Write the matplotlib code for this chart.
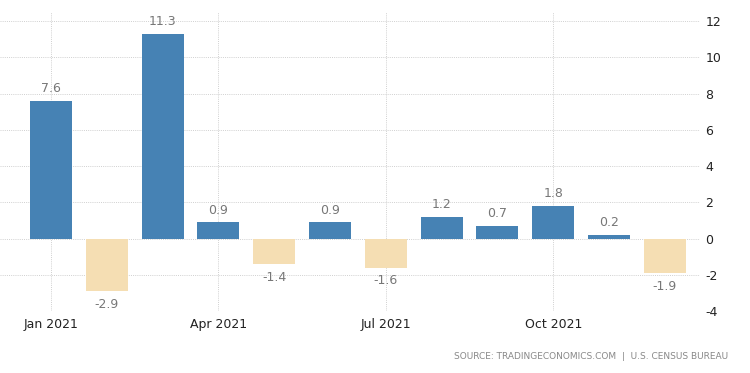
import matplotlib
matplotlib.use("Agg")
import matplotlib.pyplot as plt
import numpy as np

months = ["Jan", "Feb", "Mar", "Apr", "May", "Jun", "Jul", "Aug", "Sep", "Oct", "Nov", "Dec"]
values = [7.6, -2.9, 11.3, 0.9, -1.4, 0.9, -1.6, 1.2, 0.7, 1.8, 0.2, -1.9]
xtick_labels = ["Jan 2021", "Apr 2021", "Jul 2021", "Oct 2021"]
xtick_idx = [0, 3, 6, 9]
yticks = [-4, -2, 0, 2, 4, 6, 8, 10, 12]

blue = "#4682B4"
tan = "#F5DEB3"

fig = plt.figure(figsize=(7.5, 3.73), dpi=100)
ax = fig.add_axes([0.0, 0.1662, 0.9333, 0.8016])

x = np.arange(len(months))
colors = [blue if v >= 0 else tan for v in values]
ax.bar(x, values, width=0.75, color=colors, zorder=3)

for xi, v in zip(x, values):
    if v >= 0:
        ax.annotate(f"{v:.1f}", (xi, v), xytext=(0, 4), textcoords="offset points",
                    ha="center", va="bottom", fontsize=9, color="#777777")
    else:
        ax.annotate(f"{v:.1f}", (xi, v), xytext=(0, -5), textcoords="offset points",
                    ha="center", va="top", fontsize=9, color="#777777")

ax.set_xlim(-0.914, 11.63)
ax.set_ylim(-4, 12.5)
ax.set_yticks(yticks)
ax.set_yticklabels([str(t) for t in yticks])
ax.yaxis.tick_right()
ax.set_xticks(xtick_idx)
ax.set_xticklabels(xtick_labels)

ax.grid(True, axis="both", linestyle=(0, (1, 1.2)), color="#d0d0d0", linewidth=0.7, zorder=0)
for s in ax.spines.values():
    s.set_visible(False)
ax.tick_params(axis="both", length=0, labelsize=9, colors="#222222")
ax.tick_params(axis="y", pad=4)
ax.tick_params(axis="x", pad=5)

fig.text(0.971, 0.045, "SOURCE: TRADINGECONOMICS.COM  |  U.S. CENSUS BUREAU",
         ha="right", va="center", fontsize=6.5, color="#888888")

fig.savefig("out.png", dpi=100, facecolor="white")
